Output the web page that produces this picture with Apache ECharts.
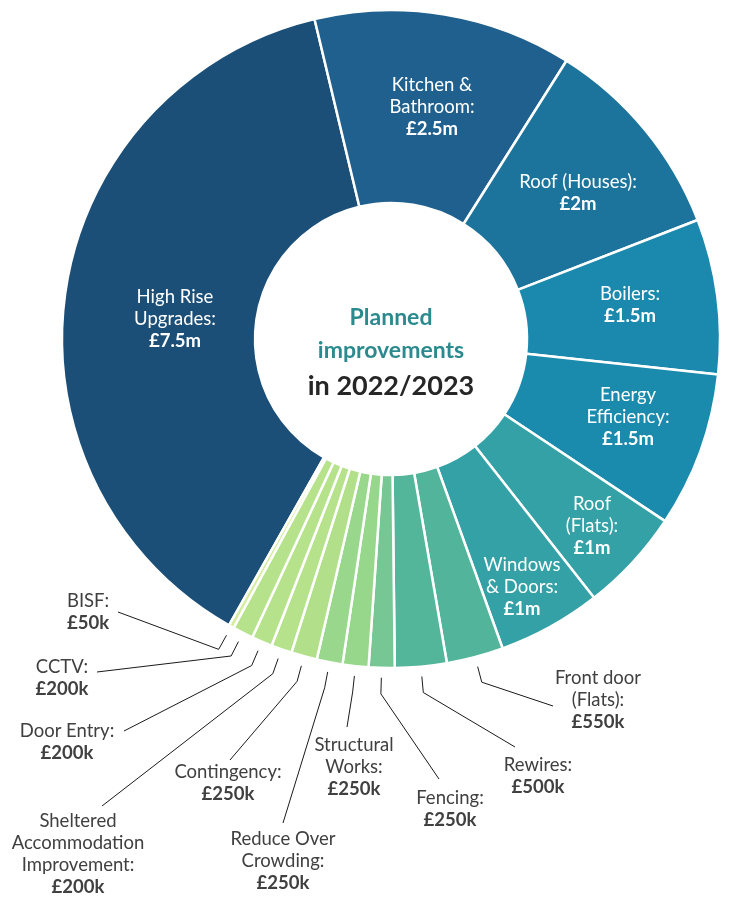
<!DOCTYPE html>
<html>
<head>
<meta charset="utf-8">
<title>Planned improvements 2022/2023</title>
<script src="https://cdn.jsdelivr.net/npm/echarts@6/dist/echarts.min.js"></script>
<style>
  html, body { margin: 0; padding: 0; background: #fff; }
  #chart { width: 730px; height: 898px; }
</style>
</head>
<body>
<div id="chart"></div>
<script>
// categories, clockwise from the bottom-left
var names = ['High Rise Upgrades', 'Kitchen & Bathroom', 'Roof (Houses)', 'Boilers', 'Energy Efficiency',
    'Roof (Flats)', 'Windows & Doors', 'Front door (Flats)', 'Rewires', 'Fencing', 'Structural Works',
    'Reduce Over Crowding', 'Contingency', 'Sheltered Accommodation Improvement', 'Door Entry', 'CCTV', 'BISF'];
// label text split as in the graphic
var labelLines = [['High Rise', 'Upgrades:'], ['Kitchen &', 'Bathroom:'], ['Roof (Houses):'], ['Boilers:'],
    ['Energy', 'Efficiency:'], ['Roof', '(Flats):'], ['Windows', '& Doors:'], ['Front door', '(Flats):'],
    ['Rewires:'], ['Fencing:'], ['Structural', 'Works:'], ['Reduce Over', 'Crowding:'], ['Contingency:'],
    ['Sheltered', 'Accommodation', 'Improvement:'], ['Door Entry:'], ['CCTV:'], ['BISF:']];
// spend in £k
var values = [7500, 2500, 2000, 1500, 1500, 1000, 1000, 550, 500, 250, 250, 250, 250, 200, 200, 200, 50];

var colors = ['#1b4f77', '#20608e', '#1c749c', '#1a89ad', '#1a8aad', '#33a1a5', '#33a1a5', '#52b59b',
    '#53b59a', '#76c794', '#97d78c', '#98d78c', '#b2e08a', '#b5e28b', '#b5e28b', '#b6e28c', '#d4ec9c'];

// inside labels: label centre x, y
var insideLabels = {
    0: [175, 319],
    1: [432, 107],
    2: [578, 193],
    3: [630, 305],
    4: [628, 417],
    5: [592, 526],
    6: [522, 587]
};
// outside labels: [label centre x, label centre y, leader line end x, end y]
var outsideLabels = {
    7: [598, 700, 553, 706],
    8: [538, 776, 515, 747],
    9: [450, 809, 439, 779],
    10: [354, 767, 347, 727],
    11: [283, 861, 283, 823],
    12: [228, 783, 230, 760],
    13: [78, 854, 102, 806],
    14: [67, 742, 124, 731],
    15: [62, 678, 97, 672],
    16: [88, 612, 118, 612]
};

var FONT = 'Lato';

function money(v) {
    return v >= 1000 ? '£' + (v / 1000) + 'm' : '£' + v + 'k';
}

var chart = echarts.init(document.getElementById('chart'), null, {renderer: 'canvas'});

var pieData = [];
for (var i = 0; i < names.length; i++) {
    var outside = outsideLabels[i] != null;
    pieData.push({
        name: names[i],
        value: values[i],
        itemStyle: {color: colors[i]},
        label: {position: outside ? 'outside' : 'inside', color: outside ? '#404040' : '#ffffff'},
        labelLine: {show: outside}
    });
}

var option = {
    animation: false,
    title: {
        text: '{a|Planned}\n{a|improvements}\n{b|in 2022/2023}',
        left: 391,
        top: 301,
        textAlign: 'center',
        padding: 0,
        textStyle: {
            rich: {
                a: {fontFamily: FONT, fontSize: 23, fontWeight: 'bold', color: '#2b8a8e', lineHeight: 33, align: 'center'},
                b: {fontFamily: FONT, fontSize: 27, fontWeight: 'bold', color: '#262626', lineHeight: 38, align: 'center'}
            }
        }
    },
    series: [{
        type: 'pie',
        center: [391, 339],
        radius: [136, 329],
        startAngle: 240.5,
        clockwise: true,
        avoidLabelOverlap: false,
        minShowLabelAngle: 0,
        emphasis: {disabled: true},
        itemStyle: {borderColor: '#ffffff', borderWidth: 2.5},
        label: {
            fontFamily: FONT,
            fontSize: 18.5,
            lineHeight: 22,
            align: 'center',
            formatter: function (p) {
                var ls = labelLines[p.dataIndex].map(function (l) { return '{n|' + l + '}'; });
                return ls.join('\n') + '\n{v|' + money(p.value) + '}';
            },
            rich: {
                n: {fontFamily: FONT, fontSize: 18.5, lineHeight: 22, align: 'center'},
                v: {fontFamily: FONT, fontSize: 18.5, lineHeight: 22, fontWeight: 'bold', align: 'center'}
            }
        },
        labelLine: {
            length: 26,
            length2: 10,
            smooth: false,
            lineStyle: {color: '#1a1a1a', width: 1}
        },
        labelLayout: function (params) {
            var inn = insideLabels[params.dataIndex];
            if (inn) {
                return {x: inn[0], y: inn[1], align: 'center', verticalAlign: 'middle'};
            }
            var o = outsideLabels[params.dataIndex];
            if (!o || !params.labelLinePoints) return {};
            var pts = params.labelLinePoints;
            // leave a small gap between the slice and the line
            var start = [pts[0][0] + (pts[1][0] - pts[0][0]) * 0.38,
                         pts[0][1] + (pts[1][1] - pts[0][1]) * 0.38];
            return {
                x: o[0],
                y: o[1],
                align: 'center',
                verticalAlign: 'middle',
                labelLinePoints: [start, pts[1], [o[2], o[3]]]
            };
        },
        data: pieData
    }]
};

chart.setOption(option);
</script>
</body>
</html>
